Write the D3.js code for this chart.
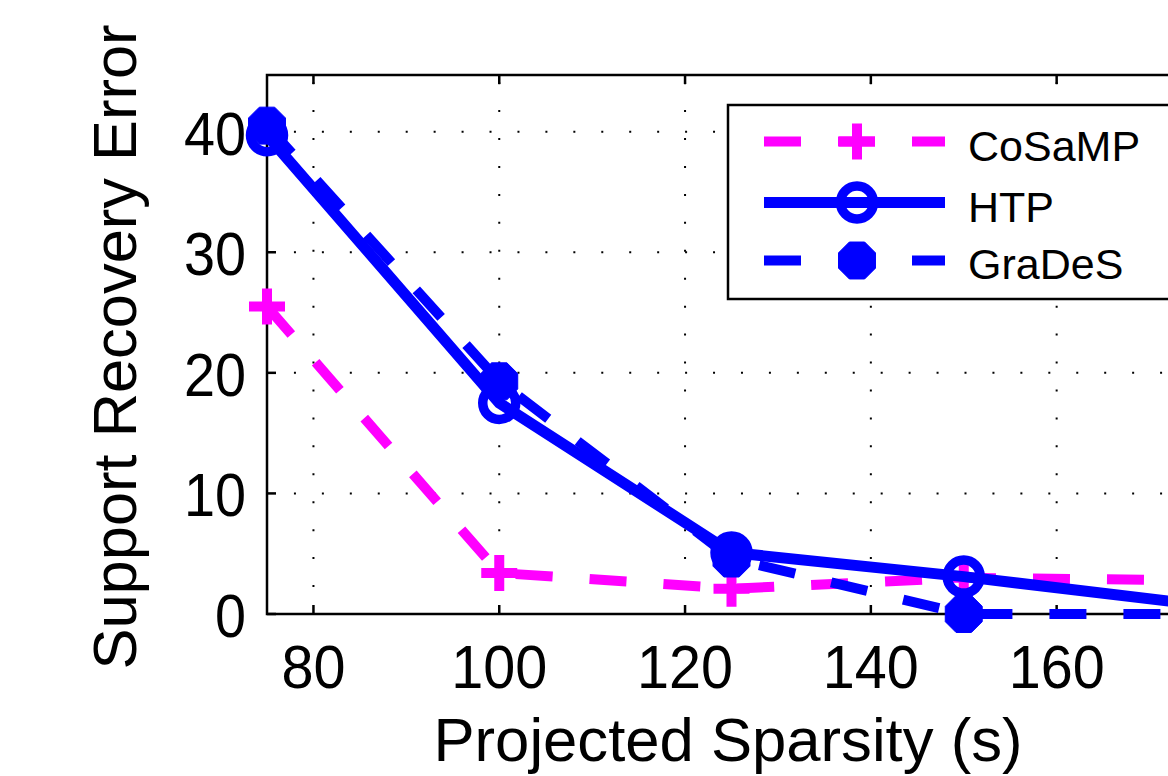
<!DOCTYPE html>
<html>
<head>
<meta charset="utf-8">
<script src="https://cdn.jsdelivr.net/npm/d3@7"></script>
<style>
  html, body { margin: 0; padding: 0; background: #fff; overflow: hidden; }
  svg { display: block; }
  text { font-family: "Liberation Sans", Arial, Helvetica, sans-serif; fill: #000; }
</style>
</head>
<body>
<svg id="chart" width="1168" height="776"></svg>
<script>
// ---- data ----
const sparsity = [75, 100, 125, 150, 175];
const cosampErr = [25.5, 3.4, 2.1, 3.0, 2.8];
const htpErr = [39.7, 17.5, 5.1, 3.1, 0.8];
const gradesErr = [40.5, 19.3, 4.6, 0, 0];
const seriesNames = ["CoSaMP", "HTP", "GraDeS"];
const xTicks = [80, 100, 120, 140, 160];
const yTicks = [0, 10, 20, 30, 40];
const xLabel = "Projected Sparsity (s)";
const yLabel = "Support Recovery Error";

(function () {
// ---- layout ----
const svg = d3.select("#chart");
const pLeft = 267, pTop = 75, pBottom = 614, pRight = 1196;
const x = d3.scaleLinear().domain([75, 175]).range([pLeft, pRight]);
const y = d3.scaleLinear().domain([0, 44.7]).range([pBottom, pTop]);

const magenta = "#ff00ff", blue = "#0000ff";
const dotPeriod = 27.94;

// grid (dotted)
const g = svg.append("g");
yTicks.forEach(v => {
  g.append("line")
    .attr("x1", pLeft).attr("x2", pRight)
    .attr("y1", y(v)).attr("y2", y(v))
    .attr("stroke", "#000").attr("stroke-width", 2)
    .attr("stroke-dasharray", `2,${dotPeriod - 2}`)
    .attr("stroke-dashoffset", 1);
});
xTicks.forEach(v => {
  g.append("line")
    .attr("x1", x(v)).attr("x2", x(v))
    .attr("y1", pBottom).attr("y2", pTop)
    .attr("stroke", "#000").attr("stroke-width", 2)
    .attr("stroke-dasharray", `2,${dotPeriod - 2}`)
    .attr("stroke-dashoffset", 1);
});

// axes frame
svg.append("path")
  .attr("d", `M${pRight},${pTop}H${pLeft}V${pBottom}H${pRight}`)
  .attr("fill", "none").attr("stroke", "#000").attr("stroke-width", 2.5);

// ticks (inward)
const tickLen = 9;
xTicks.forEach(v => {
  svg.append("line").attr("x1", x(v)).attr("x2", x(v)).attr("y1", pBottom).attr("y2", pBottom - tickLen)
    .attr("stroke", "#000").attr("stroke-width", 2.5);
  svg.append("line").attr("x1", x(v)).attr("x2", x(v)).attr("y1", pTop).attr("y2", pTop + tickLen)
    .attr("stroke", "#000").attr("stroke-width", 2.5);
});
yTicks.forEach(v => {
  svg.append("line").attr("x1", pLeft).attr("x2", pLeft + tickLen).attr("y1", y(v)).attr("y2", y(v))
    .attr("stroke", "#000").attr("stroke-width", 2.5);
});

// tick labels
const fs = 61;
xTicks.forEach(v => {
  svg.append("text").attr("x", x(v)).attr("y", 688)
    .attr("text-anchor", "middle").attr("font-size", fs)
    .attr("textLength", String(v).length * 32).attr("lengthAdjust", "spacingAndGlyphs")
    .text(v);
});
yTicks.forEach(v => {
  svg.append("text").attr("x", 246).attr("y", y(v) + 23)
    .attr("text-anchor", "end").attr("font-size", fs)
    .attr("textLength", String(v).length * 31).attr("lengthAdjust", "spacingAndGlyphs")
    .text(v);
});

// axis labels
svg.append("text").attr("x", 728).attr("y", 761)
  .attr("text-anchor", "middle").attr("font-size", 62)
  .attr("textLength", 589).attr("lengthAdjust", "spacingAndGlyphs")
  .text(xLabel);
svg.append("text")
  .attr("transform", "translate(136,347) rotate(-90)")
  .attr("text-anchor", "middle").attr("font-size", 62)
  .attr("textLength", 645).attr("lengthAdjust", "spacingAndGlyphs")
  .text(yLabel);

// ---- series ----
const line = d3.line().x(d => x(d[0])).y(d => y(d[1]));
const zip = vals => sparsity.map((s, i) => [s, vals[i]]);

const plusPath = r => `M${-r},0H${r}M0,${-r}V${r}`;
const octPts = r => d3.range(8).map(k => {
  const a = Math.PI / 8 + k * Math.PI / 4;
  return [r * Math.cos(a), r * Math.sin(a)];
});

function drawMarker(sel, type, cx, cy) {
  if (type === "plus") {
    sel.append("path").attr("d", plusPath(18)).attr("transform", `translate(${cx},${cy})`)
      .attr("stroke", magenta).attr("stroke-width", 10).attr("fill", "none");
  } else if (type === "circle") {
    sel.append("circle").attr("cx", cx).attr("cy", cy).attr("r", 16.5)
      .attr("fill", "none").attr("stroke", blue).attr("stroke-width", 9.5);
  } else {
    sel.append("polygon").attr("points", octPts(20).map(p => [p[0] + cx, p[1] + cy].join(",")).join(" "))
      .attr("fill", blue).attr("stroke", blue).attr("stroke-width", 1);
  }
}

const series = [
  { name: seriesNames[0], vals: cosampErr, color: magenta, dash: "37,37", width: 10, marker: "plus" },
  { name: seriesNames[1], vals: htpErr, color: blue, dash: null, width: 11, marker: "circle" },
  { name: seriesNames[2], vals: gradesErr, color: blue, dash: "37,37", width: 10, marker: "oct" }
];

series.forEach(s => {
  const gs = svg.append("g");
  gs.append("path").datum(zip(s.vals)).attr("d", line)
    .attr("fill", "none").attr("stroke", s.color).attr("stroke-width", s.width)
    .attr("stroke-dasharray", s.dash).attr("stroke-linejoin", "miter");
  zip(s.vals).forEach(d => drawMarker(gs, s.marker, x(d[0]), y(d[1])));
});

// ---- legend ----
const lg = svg.append("g");
lg.append("rect").attr("x", 728).attr("y", 105).attr("width", 700).attr("height", 194)
  .attr("fill", "#fff").attr("stroke", "#000").attr("stroke-width", 2.5);
const rowsY = [141.5, 202.5, 260.5];
const baseY = [161, 222, 279];
series.forEach((s, i) => {
  lg.append("line").attr("x1", 764).attr("x2", 945).attr("y1", rowsY[i]).attr("y2", rowsY[i])
    .attr("stroke", s.color).attr("stroke-width", s.width)
    .attr("stroke-dasharray", s.dash ? "37,37" : null);
  drawMarker(lg, s.marker, 857, rowsY[i]);
  lg.append("text").attr("x", 968).attr("y", baseY[i]).attr("font-size", 43).text(s.name);
});
})();
</script>
</body>
</html>
